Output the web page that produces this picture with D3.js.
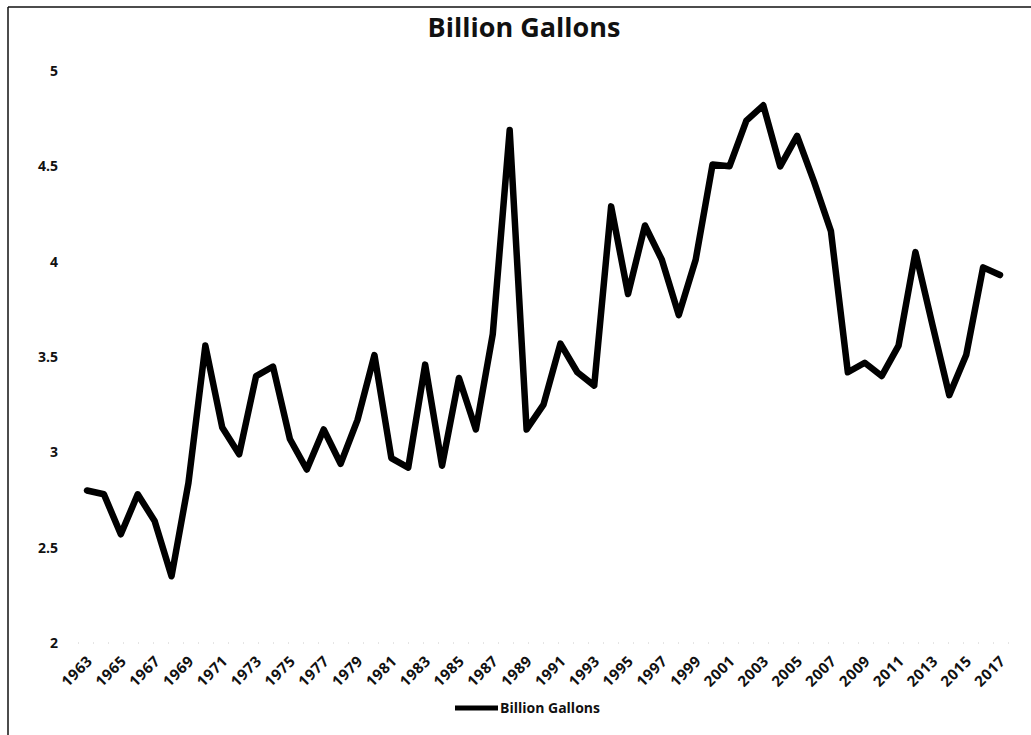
<!DOCTYPE html>
<html>
<head>
<meta charset="utf-8">
<script src="https://cdn.jsdelivr.net/npm/d3@7"></script>
<style>
  html, body { margin: 0; padding: 0; background: #fff; }
  svg { display: block; }
  text { font-family: "Open Sans", Lato, sans-serif; fill: #111; }
</style>
</head>
<body>
<svg id="chart" width="1031" height="735"></svg>
<script>
const years = d3.range(1963, 2018);
const values = [
  2.80, 2.78, 2.57, 2.78, 2.64, 2.35, 2.84, 3.56, 3.13, 2.99,
  3.40, 3.45, 3.07, 2.91, 3.12, 2.94, 3.17, 3.51, 2.97, 2.92,
  3.46, 2.93, 3.39, 3.12, 3.62, 4.69, 3.12, 3.25, 3.57, 3.42,
  3.35, 4.29, 3.83, 4.19, 4.01, 3.72, 4.01, 4.51, 4.50, 4.74,
  4.82, 4.50, 4.66, 4.42, 4.16, 3.42, 3.47, 3.40, 3.56, 4.05,
  3.67, 3.30, 3.51, 3.97, 3.93
];
const yTicks = [2, 2.5, 3, 3.5, 4, 4.5, 5];
const xTickYears = years.filter(y => (y - 1963) % 2 === 0);
const seriesName = "Billion Gallons";
const titleText = "Billion Gallons";

const svg = d3.select("#chart");
const FONT = "'Open Sans', Lato, sans-serif";

// frame
svg.append("line").attr("x1", 8).attr("x2", 1031).attr("y1", 7).attr("y2", 7)
  .attr("stroke", "#111").attr("stroke-width", 1.5);
svg.append("line").attr("x1", 8).attr("x2", 8).attr("y1", 7).attr("y2", 735)
  .attr("stroke", "#111").attr("stroke-width", 1.5);

const x = d3.scaleLinear().domain([1963, 2017]).range([87, 1000]);
const y = d3.scaleLinear().domain([2, 5]).range([643, 71]);

// title
svg.append("text").attr("x", 524).attr("y", 37)
  .attr("text-anchor", "middle").attr("font-size", 27).attr("font-weight", "bold")
  .text(titleText);

// y axis
const yAxis = d3.axisLeft(y).tickValues(yTicks).tickSize(0).tickPadding(0)
  .tickFormat(d => String(d));
const gy = svg.append("g").attr("transform", "translate(58,0)").call(yAxis);
gy.select(".domain").remove();
gy.selectAll("text").attr("font-size", 14).attr("font-weight", "bold")
  .style("font-family", FONT).attr("fill", "#111");

// faint axis line
svg.append("line").attr("x1", 78).attr("x2", 1009).attr("y1", y(2)).attr("y2", y(2))
  .attr("stroke", "#ccc").attr("stroke-width", 1).attr("stroke-dasharray", "1,14");

// x axis
const xAxis = d3.axisBottom(x).tickValues(xTickYears).tickSize(0).tickPadding(0)
  .tickFormat(d3.format("d"));
const gx = svg.append("g").attr("transform", `translate(0,${y(2)})`).call(xAxis);
gx.select(".domain").remove();
gx.selectAll("text")
  .attr("font-size", 15).attr("font-weight", "bold")
  .attr("letter-spacing", 0.5)
  .style("font-family", FONT).attr("fill", "#111")
  .attr("text-anchor", "end")
  .attr("dy", 0)
  .attr("transform", "translate(6,19) rotate(-45)");

// line
const line = d3.line().x((d, i) => x(years[i])).y(d => y(d)).curve(d3.curveLinear);
svg.append("path").datum(values)
  .attr("d", line).attr("fill", "none").attr("stroke", "#000")
  .attr("stroke-width", 6.5).attr("stroke-linejoin", "round").attr("stroke-linecap", "round");

// legend
const lg = svg.append("g").attr("transform", "translate(455,708)");
lg.append("line").attr("x1", 0).attr("x2", 43).attr("y1", 0).attr("y2", 0)
  .attr("stroke", "#000").attr("stroke-width", 5);
lg.append("text").attr("x", 45).attr("y", 0).attr("dy", "0.35em")
  .attr("font-size", 14).attr("font-weight", "bold").text(seriesName);
</script>
</body>
</html>
